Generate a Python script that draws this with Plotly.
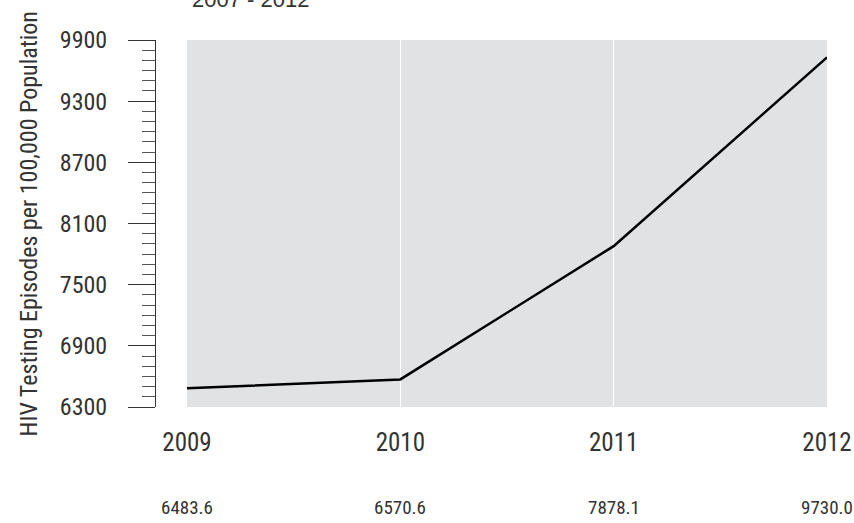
import plotly.graph_objects as go

years = [2009, 2010, 2011, 2012]
rates = [6483.6, 6570.6, 7878.1, 9730.0]
rate_labels = ["6483.6", "6570.6", "7878.1", "9730.0"]
y_ticks = [6300, 6900, 7500, 8100, 8700, 9300, 9900]
y_tick_text = ["6300", "6900", "7500", "8100", "8700", "9300", "9900"]

narrow = "Liberation Sans Narrow, Roboto Condensed, DejaVu Sans Condensed, sans-serif"
ink = "#333333"

fig = go.Figure()

fig.add_trace(go.Scatter(
    x=years,
    y=rates,
    mode="lines",
    line=dict(color="black", width=2.5),
    hoverinfo="skip",
    showlegend=False
))

# values printed under the year labels
for yr, lab in zip(years, rate_labels):
    fig.add_annotation(
        x=yr, y=0, xref="x", yref="paper",
        yshift=-100, yanchor="middle", xanchor="center",
        text=lab, showarrow=False,
        font=dict(family=narrow, size=19, color=ink)
    )

# y axis title
fig.add_annotation(
    x=-127 / 672, y=0.5, xref="paper", yref="paper",
    xanchor="center", yanchor="middle", textangle=-90,
    text="HIV Testing Episodes per 100,000 Population", showarrow=False,
    font=dict(family=narrow, size=24, color=ink)
)

# title, mostly cut off at the top of the page
fig.add_annotation(
    x=95 / 672, y=1 + 41 / 367, xref="paper", yref="paper",
    xanchor="center", yanchor="middle",
    text="2007 - 2012", showarrow=False,
    font=dict(family="Liberation Sans, Arial, sans-serif", size=22, color=ink)
)

fig.update_layout(
    width=854, height=523,
    autosize=False,
    margin=dict(l=155, r=27, t=40, b=116),
    paper_bgcolor="white",
    plot_bgcolor="#e1e2e4",
    font=dict(family=narrow, color=ink),
    xaxis=dict(
        domain=[32 / 672, 1],
        range=[2009, 2012],
        tickvals=years,
        automargin=False,
        showgrid=True, gridcolor="white", gridwidth=1,
        zeroline=False, showline=False,
        ticks="", ticklabelstandoff=18,
        tickfont=dict(family=narrow, size=25, color=ink)
    ),
    yaxis=dict(
        range=[6300, 9900],
        tickvals=y_ticks,
        ticktext=y_tick_text,
        anchor="free", position=0,
        automargin=False,
        showgrid=False, zeroline=False,
        showline=True, linecolor=ink, linewidth=1,
        ticks="outside", ticklen=27, tickcolor=ink, tickwidth=1,
        ticklabelstandoff=16,
        minor=dict(dtick=100, ticks="outside", ticklen=13, tickcolor="#555555", tickwidth=1),
        tickfont=dict(family=narrow, size=24, color=ink)
    )
)

fig.write_html(
    "out.html",
    config={"displayModeBar": False, "responsive": False},
    post_script="document.body.style.margin='0';document.body.style.overflow='hidden';"
)
